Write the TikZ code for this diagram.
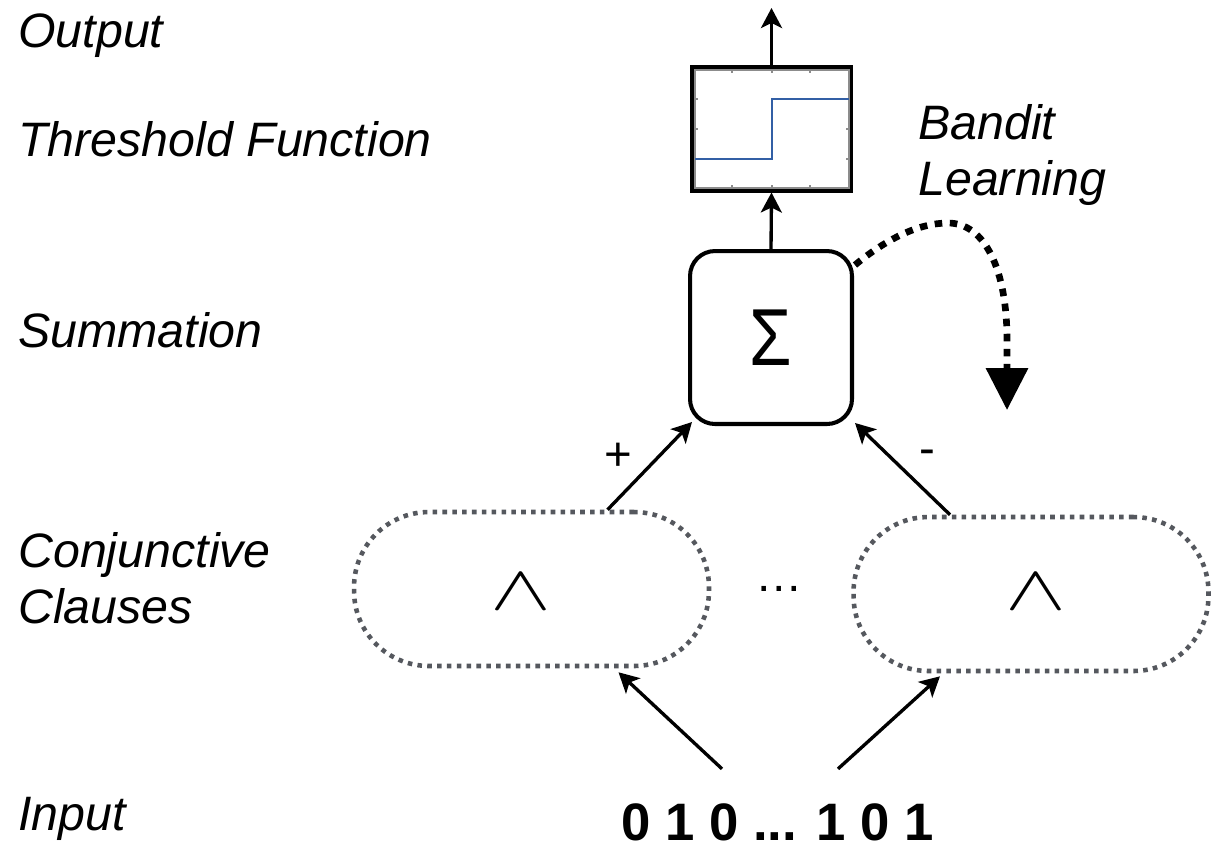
\documentclass[tikz,border=0pt]{standalone}
\usepackage{fontspec}
\setmainfont{Liberation Sans}
\usetikzlibrary{arrows.meta}
\definecolor{clausegray}{RGB}{85,88,94}
\definecolor{stepblue}{RGB}{50,95,165}
\definecolor{tickgray}{RGB}{140,140,140}
\begin{document}
\begin{tikzpicture}[x=0.02cm,y=-0.02cm,
  lbl/.style={anchor=base west, inner sep=0, font=\fontsize{27.5}{31.8}\selectfont\itshape, align=left},
  sym/.style={inner sep=0, font=\fontsize{27}{31.8}\selectfont},
  wedgesym/.style={inner sep=0},
  conn/.style={line width=1.9pt, -{Stealth[length=0.4cm,width=0.42cm,inset=0.1cm]}},
  thickbox/.style={draw, line width=2.3pt, inner sep=0},
  clause/.style={draw=clausegray, line width=2.6pt, dash pattern=on 2.6pt off 3.0pt, rounded corners=1.5cm, minimum width=7.1cm, minimum height=3.08cm, inner sep=0},
  bandit/.style={line width=3.8pt, dash pattern=on 4.3pt off 4.3pt, -{Triangle[length=0.84cm,width=0.82cm]}}
]
\path[fill=white] (0,0) rectangle (1216,850);
\useasboundingbox (0,0) rectangle (1216,850);

% labels
\node[lbl] (lout) at (18,47) {Output};
\node[lbl] (lthr) at (18,156) {Threshold Function};
\node[lbl] (lsum) at (18,347) {Summation};
\node[lbl] (lcl) at (18,623) {Conjunctive\\Clauses};
\node[lbl] (lin) at (18,830) {Input};
\node[lbl] (lban) at (918,195) {Bandit\\Learning};

% threshold box with plot
\node[thickbox, minimum width=3.18cm, minimum height=2.47cm] (thr) at (771.5,128.75) {};
\draw[tickgray, line width=0.6pt] (695,70) rectangle (849,188);
\foreach \xx in {732,772,810} {
  \draw[tickgray, line width=0.6pt] (\xx,70) -- (\xx,73);
  \draw[tickgray, line width=0.6pt] (\xx,188) -- (\xx,185);
}
\foreach \yy in {99,129,159} {
  \draw[tickgray, line width=0.6pt] (695,\yy) -- (698,\yy);
  \draw[tickgray, line width=0.6pt] (849,\yy) -- (846,\yy);
}
\draw[stepblue, line width=0.8pt] (695,159) -- (772,159) -- (772,99) -- (849,99);

% summation
\node[thickbox, rounded corners=0.5cm, minimum width=3.24cm, minimum height=3.46cm, font=\fontsize{46}{50}\selectfont] (sig) at (771,337.5) {\scalebox{0.85}[1]{Σ}};

% clauses
\node[clause] (cL) at (531.5,589) {};
\node[clause] (cR) at (1031,594) {};
\node[wedgesym] (wL) at (520.5,591.5) {\scalebox{5.2}[3.6]{$\wedge$}};
\node[wedgesym] (wR) at (1035.5,591.5) {\scalebox{5.2}[3.6]{$\wedge$}};
\node[sym, anchor=base] (dots) at (779,591) {…};

% input
\node[anchor=base, inner sep=0, font=\fontsize{30}{36}\selectfont\bfseries] (inp) at (777.5,840) {0 1 0 ... 1 0 1};

% signs
\node[sym] (plus) at (618,457) {+};
\node[sym] (minus) at (927,457) {-};

% connectors
\coordinate (outend) at (771.5,8);
\draw[conn] (thr.north) -- (outend);
\draw[conn] (sig.north) -- (thr.south);
\draw[conn] ([shift={(76,0)}]cL.north) -- ([shift={(4,-4)}]sig.south west);
\draw[conn] ([shift={(-81,0)}]cR.north) -- ([shift={(1,-3)}]sig.south east);
\draw[conn] ([shift={(-55.5,-34)}]inp.north) -- ([shift={(87,4)}]cL.south);
\draw[conn] ([shift={(60.5,-34)}]inp.north) -- ([shift={(-91,3)}]cR.south);

% bandit learning arrow
\coordinate (bandend) at (1007,410);
\draw[bandit] ([shift={(1,16)}]sig.north east) .. controls (885,240) and (918,223) .. (948,223) .. controls (985,223) and (1007,270) .. (1007,340) -- (bandend);
\end{tikzpicture}
\end{document}
